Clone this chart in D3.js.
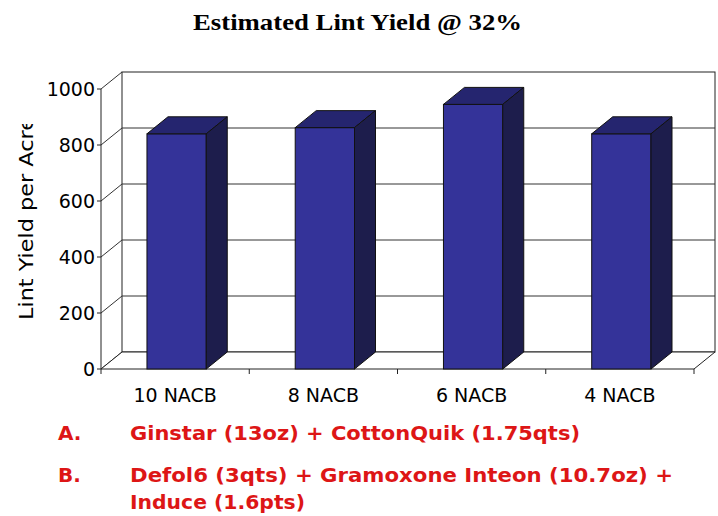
<!DOCTYPE html>
<html>
<head>
<meta charset="utf-8">
<script src="https://cdn.jsdelivr.net/npm/d3@7"></script>
<style>
  body { margin: 0; background: #fff; }
  svg { display: block; }
</style>
</head>
<body>
<script>
'use strict';

// chart data
const categories = ["10 NACB", "8 NACB", "6 NACB", "4 NACB"];
const yieldValues = [840, 862, 945, 840];
const yTicks = [0, 200, 400, 600, 800, 1000];
const titleText = "Estimated Lint Yield @ 32%";
const yLabel = "Lint Yield per Acre";
const noteLetters = ["A.", "B."];
const noteLines = [
  ["Ginstar (13oz) + CottonQuik (1.75qts)"],
  ["Defol6 (3qts) + Gramoxone Inteon (10.7oz) +", "Induce (1.6pts)"]
];

(function() {
  const width = 718, height = 516;
  const dx = 21, dy = -17; // depth offset of the 3d box

  const svg = d3.select("body").append("svg")
    .attr("width", width)
    .attr("height", height);

  const x = d3.scaleBand().domain(categories).range([101, 694]);
  const y = d3.scaleLinear().domain([0, 1000]).range([369, 89]);

  const x0 = x.range()[0], x1 = x.range()[1];
  const yTop = y(1000), yBase = y(0);

  // title
  svg.append("text")
    .attr("x", 193).attr("y", 30)
    .attr("textLength", 329)
    .attr("lengthAdjust", "spacingAndGlyphs")
    .style("font-family", "'Liberation Serif', 'Times New Roman', serif")
    .style("font-weight", "bold")
    .style("font-size", "23px")
    .text(titleText);

  // back wall
  const wall = svg.append("g");
  wall.append("rect")
    .attr("x", x0 + dx).attr("y", yTop + dy)
    .attr("width", x1 - x0).attr("height", yBase - yTop)
    .attr("fill", "#fff").attr("stroke", "#222").attr("stroke-width", 1);

  // back gridlines
  wall.selectAll(".grid").data(yTicks.filter(v => v > 0 && v < 1000)).enter()
    .append("line")
    .attr("x1", x0 + dx).attr("x2", x1 + dx)
    .attr("y1", d => y(d) + dy).attr("y2", d => y(d) + dy)
    .attr("stroke", "#333").attr("stroke-width", 1);

  // left wall gridlines (slanted)
  wall.selectAll(".side").data(yTicks).enter()
    .append("line")
    .attr("x1", x0).attr("x2", x0 + dx)
    .attr("y1", d => y(d)).attr("y2", d => y(d) + dy)
    .attr("stroke", "#333").attr("stroke-width", 1);

  // floor
  const floorPts = [[x0, yBase], [x1, yBase], [x1 + dx, yBase + dy], [x0 + dx, yBase + dy]];
  wall.append("polygon")
    .attr("points", floorPts.map(p => p.join(",")).join(" "))
    .attr("fill", "#fff").attr("stroke", "#222").attr("stroke-width", 1);

  // front y axis line
  wall.append("line")
    .attr("x1", x0).attr("x2", x0)
    .attr("y1", yTop).attr("y2", yBase)
    .attr("stroke", "#222");

  // y ticks and labels
  wall.selectAll(".ytick").data(yTicks).enter()
    .append("line")
    .attr("x1", x0 - 4).attr("x2", x0)
    .attr("y1", d => y(d)).attr("y2", d => y(d))
    .attr("stroke", "#222");

  svg.selectAll(".ylab").data(yTicks).enter()
    .append("text")
    .attr("x", x0 - 6).attr("y", d => y(d))
    .attr("dy", "0.35em")
    .attr("text-anchor", "end")
    .style("font-family", "'DejaVu Sans', Verdana, sans-serif")
    .style("font-size", "19px")
    .text(d => d);

  // x ticks at category boundaries
  const bounds = categories.map(c => x(c)).concat([x1]);
  wall.selectAll(".xtick").data(bounds).enter()
    .append("line")
    .attr("x1", d => d).attr("x2", d => d)
    .attr("y1", yBase).attr("y2", yBase + 5)
    .attr("stroke", "#222");

  // bars
  const bw = x.bandwidth() * 0.4;
  const barX = c => x(c) + x.bandwidth() * 0.31;
  const bars = svg.selectAll(".bar").data(categories).enter().append("g");

  bars.append("rect")
    .attr("x", c => barX(c))
    .attr("y", (c, i) => y(yieldValues[i]))
    .attr("width", bw)
    .attr("height", (c, i) => yBase - y(yieldValues[i]))
    .attr("fill", "#343399").attr("stroke", "#111").attr("stroke-width", 1);

  bars.append("polygon")
    .attr("points", (c, i) => {
      const l = barX(c), r = l + bw, t = y(yieldValues[i]);
      return [[l, t], [l + dx, t + dy], [r + dx, t + dy], [r, t]].map(p => p.join(",")).join(" ");
    })
    .attr("fill", "#25256f").attr("stroke", "#111").attr("stroke-width", 1);

  bars.append("polygon")
    .attr("points", (c, i) => {
      const r = barX(c) + bw, t = y(yieldValues[i]);
      return [[r, t], [r + dx, t + dy], [r + dx, yBase + dy], [r, yBase]].map(p => p.join(",")).join(" ");
    })
    .attr("fill", "#1d1d4c").attr("stroke", "#111").attr("stroke-width", 1);

  // category labels
  svg.selectAll(".xlab").data(categories).enter()
    .append("text")
    .attr("x", c => x(c) + x.bandwidth() / 2)
    .attr("y", 402)
    .attr("text-anchor", "middle")
    .style("font-family", "'DejaVu Sans', Verdana, sans-serif")
    .style("font-size", "19px")
    .text(c => c);

  // y axis title, clipped at the top like the original
  svg.append("clipPath").attr("id", "ylabClip")
    .append("rect").attr("x", 0).attr("y", 124).attr("width", 60).attr("height", 260);

  svg.append("g")
    .attr("clip-path", "url(#ylabClip)")
    .append("text")
    .attr("transform", "translate(33, 320) rotate(-90)")
    .attr("textLength", 203)
    .attr("lengthAdjust", "spacingAndGlyphs")
    .style("font-family", "'DejaVu Sans', Verdana, sans-serif")
    .style("font-size", "19px")
    .text(yLabel);

  // red notes underneath
  const red = "#dd1616";
  const noteFont = "'DejaVu Sans', Verdana, sans-serif";
  const lineBase = [440, 482];
  const lineWidths = [[450], [543, 175]];

  noteLetters.forEach((letter, i) => {
    svg.append("text")
      .attr("x", 58).attr("y", lineBase[i])
      .attr("fill", red)
      .style("font-family", noteFont)
      .style("font-weight", "bold")
      .style("font-size", "20px")
      .text(letter);

    noteLines[i].forEach((txt, j) => {
      svg.append("text")
        .attr("x", 130).attr("y", lineBase[i] + j * 27)
        .attr("fill", red)
        .attr("textLength", lineWidths[i][j])
        .attr("lengthAdjust", "spacingAndGlyphs")
        .style("font-family", noteFont)
        .style("font-weight", "bold")
        .style("font-size", "20px")
        .text(txt);
    });
  });
})();
</script>
</body>
</html>
